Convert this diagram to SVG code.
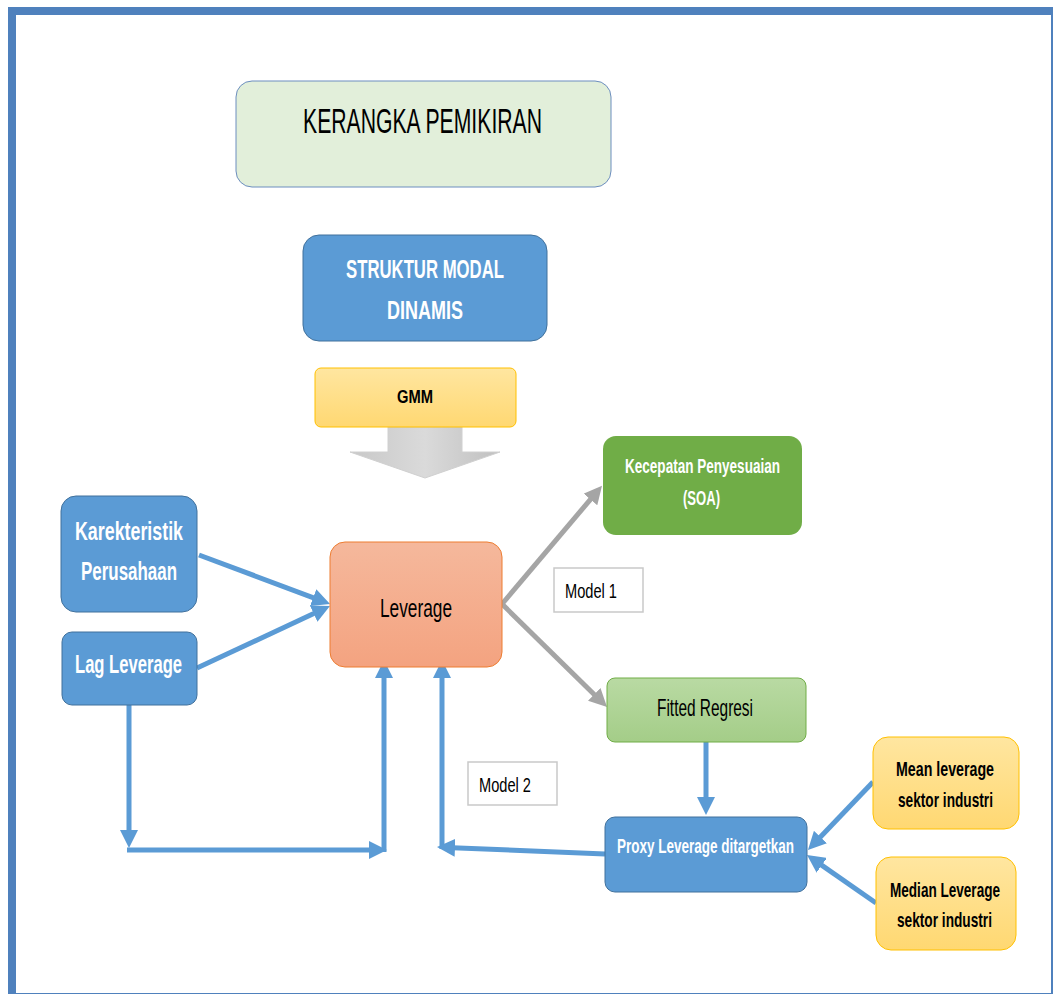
<svg xmlns="http://www.w3.org/2000/svg" width="1053" height="994" viewBox="0 0 1053 994">
<style>
.t{font-family:"Liberation Sans",Arial,sans-serif;}
.w{fill:#ffffff;font-weight:bold;}
.k{fill:#000000;}
.kb{fill:#000000;font-weight:bold;}
.blue{fill:#5B9BD5;stroke:#41719C;stroke-width:1;}
.cb{fill:none;stroke:#5B9BD5;stroke-width:5;}
.cg{fill:none;stroke:#A5A5A5;stroke-width:5;}
.lbl{fill:#ffffff;stroke:#C9C9C9;stroke-width:1.5;}
</style>
<defs>
<marker id="ab" viewBox="0 0 18 18" refX="9" refY="9" markerWidth="18" markerHeight="18" markerUnits="userSpaceOnUse" orient="auto"><path d="M0,0 L18,9 L0,18 z" fill="#5B9BD5"/></marker>
<marker id="ag" viewBox="0 0 18 18" refX="9" refY="9" markerWidth="18" markerHeight="18" markerUnits="userSpaceOnUse" orient="auto"><path d="M0,0 L18,9 L0,18 z" fill="#A5A5A5"/></marker>
<linearGradient id="gOr" x1="0" y1="0" x2="0" y2="1"><stop offset="0" stop-color="#FFE6A0"/><stop offset="1" stop-color="#FFD872"/></linearGradient>
<linearGradient id="gLev" x1="0" y1="0" x2="0" y2="1"><stop offset="0" stop-color="#F5B89C"/><stop offset="1" stop-color="#F4A380"/></linearGradient>
<linearGradient id="gFit" x1="0" y1="0" x2="0" y2="1"><stop offset="0" stop-color="#B9DAA3"/><stop offset="1" stop-color="#A4CD88"/></linearGradient>
<linearGradient id="gGray" x1="0" y1="0" x2="1" y2="0"><stop offset="0" stop-color="#C8C8C8"/><stop offset="0.5" stop-color="#DADADA"/><stop offset="1" stop-color="#C0C0C0"/></linearGradient>
</defs>
<rect x="0" y="0" width="1053" height="994" fill="#ffffff"/>
<rect x="12" y="11" width="1043" height="986" fill="none" stroke="#4F81BD" stroke-width="8"/>

<g id="connectors">
<path class="cb" d="M199,555 L321.6,600.8" marker-end="url(#ab)"/>
<path class="cb" d="M197,668 L321.8,609.8" marker-end="url(#ab)"/>
<path class="cb" d="M129,705 V839" marker-end="url(#ab)"/>
<path class="cb" d="M127,850 H378" marker-end="url(#ab)"/>
<path class="cb" d="M384,852 V669" marker-end="url(#ab)"/>
<path class="cb" d="M442,849 V669" marker-end="url(#ab)"/>
<path class="cb" d="M605,854 L446,847.4" marker-end="url(#ab)"/>
<path class="cb" d="M706,742 V806" marker-end="url(#ab)"/>
<path class="cb" d="M873,782 L814.2,843.5" marker-end="url(#ab)"/>
<path class="cb" d="M876,903 L814.4,860.1" marker-end="url(#ab)"/>
<path class="cg" d="M502,604 L596.2,492.6" marker-end="url(#ag)"/>
<path class="cg" d="M502,604 L600.6,700.7" marker-end="url(#ag)"/>
<path d="M388,427 H462 V452 H500 L425,478 L350,452 H388 Z" fill="url(#gGray)" stroke="#D0D0D0" stroke-width="1"/>
</g>

<g id="title">
<rect x="236" y="81" width="375" height="106" rx="16" fill="#E2EFDA" stroke="#6C8EBF" stroke-width="1"/>
<text class="t k" x="303" y="133" font-size="35" textLength="239" lengthAdjust="spacingAndGlyphs">KERANGKA PEMIKIRAN</text>
</g>

<g id="struktur">
<rect class="blue" x="303" y="235" width="244" height="106" rx="16"/>
<text class="t w" x="346" y="278" font-size="25" textLength="158" lengthAdjust="spacingAndGlyphs">STRUKTUR MODAL</text>
<text class="t w" x="387" y="319" font-size="25" textLength="76" lengthAdjust="spacingAndGlyphs">DINAMIS</text>
</g>

<g id="gmm">
<rect x="315" y="368" width="201" height="59" rx="6" fill="url(#gOr)" stroke="#FFC000" stroke-width="1"/>
<text class="t kb" x="397" y="403" font-size="18" textLength="36" lengthAdjust="spacingAndGlyphs">GMM</text>
</g>

<g id="karekteristik">
<rect class="blue" x="61" y="496" width="136" height="116" rx="15"/>
<text class="t w" x="75" y="540" font-size="25" textLength="108" lengthAdjust="spacingAndGlyphs">Karekteristik</text>
<text class="t w" x="81" y="580" font-size="25" textLength="96" lengthAdjust="spacingAndGlyphs">Perusahaan</text>
</g>

<g id="lag">
<rect class="blue" x="62" y="632" width="135" height="73" rx="10"/>
<text class="t w" x="75" y="673" font-size="25" textLength="107" lengthAdjust="spacingAndGlyphs">Lag Leverage</text>
</g>

<g id="leverage">
<rect x="330" y="542" width="172" height="125" rx="15" fill="url(#gLev)" stroke="#ED7D31" stroke-width="1"/>
<text class="t k" x="380" y="617" font-size="26" textLength="72" lengthAdjust="spacingAndGlyphs">Leverage</text>
</g>

<g id="soa">
<rect x="603" y="436" width="199" height="99" rx="13" fill="#70AD47"/>
<text class="t w" x="625" y="473" font-size="20" textLength="155" lengthAdjust="spacingAndGlyphs">Kecepatan Penyesuaian</text>
<text class="t w" x="683" y="505" font-size="20" textLength="37" lengthAdjust="spacingAndGlyphs">(SOA)</text>
</g>

<g id="model1">
<rect class="lbl" x="554" y="568" width="89" height="44"/>
<text class="t k" x="565" y="598" font-size="21" textLength="52" lengthAdjust="spacingAndGlyphs">Model 1</text>
</g>

<g id="fitted">
<rect x="607" y="678" width="199" height="64" rx="8" fill="url(#gFit)" stroke="#70AD47" stroke-width="1"/>
<text class="t k" x="657" y="716" font-size="24" textLength="96" lengthAdjust="spacingAndGlyphs">Fitted Regresi</text>
</g>

<g id="model2">
<rect class="lbl" x="468" y="762" width="89" height="43"/>
<text class="t k" x="479" y="792" font-size="21" textLength="52" lengthAdjust="spacingAndGlyphs">Model 2</text>
</g>

<g id="proxy">
<rect class="blue" x="605" y="817" width="202" height="75" rx="10"/>
<text class="t w" x="617" y="853" font-size="21" textLength="177" lengthAdjust="spacingAndGlyphs">Proxy Leverage ditargetkan</text>
</g>

<g id="mean">
<rect x="873" y="737" width="146" height="92" rx="15" fill="url(#gOr)" stroke="#FFC000" stroke-width="1"/>
<text class="t kb" x="896" y="776" font-size="21" textLength="98" lengthAdjust="spacingAndGlyphs">Mean leverage</text>
<text class="t kb" x="898" y="807" font-size="21" textLength="95" lengthAdjust="spacingAndGlyphs">sektor industri</text>
</g>

<g id="median">
<rect x="876" y="857" width="140" height="93" rx="15" fill="url(#gOr)" stroke="#FFC000" stroke-width="1"/>
<text class="t kb" x="890" y="897" font-size="20" textLength="110" lengthAdjust="spacingAndGlyphs">Median Leverage</text>
<text class="t kb" x="897" y="927" font-size="21" textLength="95" lengthAdjust="spacingAndGlyphs">sektor industri</text>
</g>
</svg>
